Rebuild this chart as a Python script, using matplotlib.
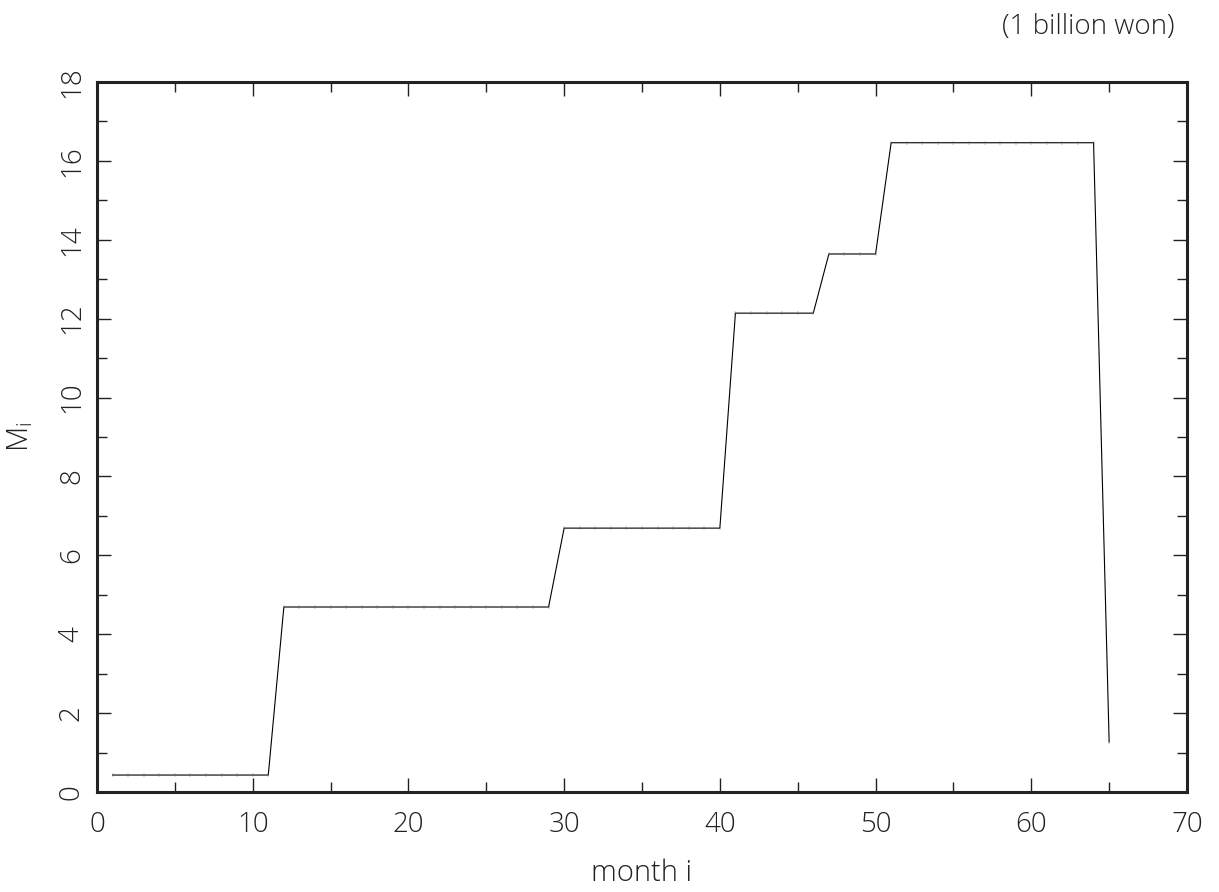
import matplotlib.pyplot as plt
from matplotlib.ticker import MultipleLocator

# -----------------------------
# Data: M_i per month (1 billion won)
# -----------------------------
months = list(range(1, 66))
levels = [0.43] * 11 + [4.69] * 18 + [6.69] * 11 + [12.14] * 6 + [13.64] * 4 + [16.46] * 14 + [1.27]

plt.rcParams['font.family'] = ['Open Sans', 'DejaVu Sans']
plt.rcParams['font.weight'] = 300
plt.rcParams['axes.labelweight'] = 300
plt.rcParams['text.color'] = '#222222'
plt.rcParams['axes.labelcolor'] = '#222222'
plt.rcParams['xtick.labelcolor'] = '#222222'
plt.rcParams['ytick.labelcolor'] = '#222222'

fig = plt.figure(figsize=(12.19, 8.92), dpi=100)
ax = fig.add_axes([97 / 1219, 1 - 792 / 892, 1090 / 1219, 710 / 892])

ax.plot(months, levels, color='black', linewidth=0.8,
        marker='|', markersize=2.5, markeredgewidth=0.3, markeredgecolor='#666666')

ax.set_xlim(0, 70)
ax.set_ylim(0, 18)
ax.xaxis.set_major_locator(MultipleLocator(10))
ax.xaxis.set_minor_locator(MultipleLocator(5))
ax.yaxis.set_major_locator(MultipleLocator(2))
ax.yaxis.set_minor_locator(MultipleLocator(1))

ax.tick_params(which='both', direction='in', top=True, right=True, width=1.0, color='#222222')
ax.tick_params(which='major', length=10, labelsize=20)
ax.tick_params(axis='x', which='major', pad=14)
ax.tick_params(axis='y', which='major', pad=8)
ax.tick_params(which='minor', length=7)
for lbl in ax.get_yticklabels():
    lbl.set_rotation(90)
    lbl.set_va('center')

for sp in ax.spines.values():
    sp.set_linewidth(2.2)
    sp.set_color('#222222')

ax.set_xlabel("month i", fontsize=21, labelpad=14)
ax.set_ylabel("M$_\\mathregular{i}$", fontsize=21, labelpad=16)
fig.text(1175 / 1219, 1 - 27 / 892, "(1 billion won)", fontsize=20, ha='right', va='center')

fig.savefig("out.png", dpi=100)
